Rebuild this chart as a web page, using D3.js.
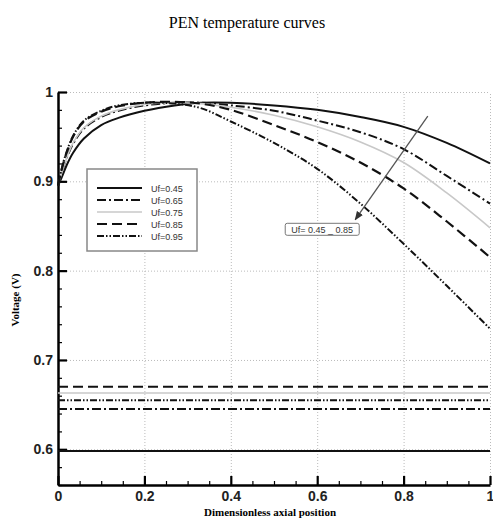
<!DOCTYPE html>
<html>
<head>
<meta charset="utf-8">
<script src="https://cdn.jsdelivr.net/npm/d3@7"></script>
<style>
  body { margin: 0; background: #fff; }
  .tick text { font-family: "Liberation Sans", Arial, sans-serif; font-weight: bold; font-size: 14px; fill: #222; }
  .grid line { stroke: #bbb; stroke-dasharray: 1,2; }
  .grid path { display: none; }
</style>
</head>
<body>
<script>
// axial positions of the sampled points
var xPos = [0, 0.01, 0.02, 0.035, 0.06, 0.1, 0.14, 0.2, 0.27, 0.33, 0.4, 0.5, 0.6, 0.7, 0.8, 0.9, 1.0];

// upper curves (one per fuel utilisation)
var uf045 = [0.895, 0.906, 0.918, 0.932, 0.948, 0.963, 0.971, 0.979, 0.985, 0.988, 0.988, 0.985, 0.980, 0.972, 0.961, 0.943, 0.920];
var uf065 = [0.895, 0.912, 0.926, 0.942, 0.959, 0.972, 0.979, 0.985, 0.988, 0.988, 0.985, 0.979, 0.968, 0.955, 0.936, 0.906, 0.875];
var uf075 = [0.895, 0.912, 0.926, 0.943, 0.960, 0.973, 0.980, 0.986, 0.988, 0.987, 0.983, 0.974, 0.961, 0.944, 0.921, 0.887, 0.848];
var uf085 = [0.895, 0.916, 0.932, 0.950, 0.967, 0.978, 0.984, 0.988, 0.989, 0.987, 0.980, 0.963, 0.944, 0.921, 0.892, 0.855, 0.815];
var uf095 = [0.895, 0.917, 0.933, 0.951, 0.968, 0.979, 0.985, 0.988, 0.987, 0.982, 0.967, 0.943, 0.914, 0.875, 0.830, 0.783, 0.735];

// flat lower lines, same order as the series
var lowLevels = [0.598, 0.645, 0.663, 0.670, 0.655];

var seriesNames = ["Uf=0.45", "Uf=0.65", "Uf=0.75", "Uf=0.85", "Uf=0.95"];
var xTicks = [0, 0.2, 0.4, 0.6, 0.8, 1];
var yTicks = [0.6, 0.7, 0.8, 0.9, 1];

var styles = [
    { stroke: "#111", width: 2, dash: null },
    { stroke: "#111", width: 2, dash: "9,3,2,3" },
    { stroke: "#c8c8c8", width: 1.6, dash: null },
    { stroke: "#111", width: 2.2, dash: "10,5" },
    { stroke: "#111", width: 2, dash: "7,2,1.5,2,1.5,2" }
];

var width = 493, height = 521;

var x = d3.scaleLinear().domain([0, 1]).range([58, 490]);
var y = d3.scaleLinear().domain([0.56, 1]).range([485, 92]);

var svg = d3.select("body").append("svg")
    .attr("width", width)
    .attr("height", height);

svg.append("text")
    .attr("x", 247).attr("y", 28)
    .attr("text-anchor", "middle")
    .style("font-family", "'Liberation Serif', 'Times New Roman', serif")
    .style("font-size", "16px")
    .text("PEN temperature curves");

// grid
svg.append("g").attr("class", "grid")
    .attr("transform", "translate(0 485)")
    .call(d3.axisBottom(x).tickValues(xTicks.slice(1)).tickSize(-393).tickFormat(""));
svg.append("g").attr("class", "grid")
    .attr("transform", "translate(58 0)")
    .call(d3.axisLeft(y).tickValues(yTicks).tickSize(-432).tickFormat(""));

// minor ticks
var xMinor = d3.range(0.05, 1, 0.05).filter(function (v) { return Math.abs(v * 5 - Math.round(v * 5)) > 1e-6; });
var yMinor = d3.range(0.56, 1, 0.02).filter(function (v) { return Math.abs(v * 10 - Math.round(v * 10)) > 1e-6; });

svg.append("g")
    .attr("transform", "translate(0 485)")
    .call(d3.axisBottom(x).tickValues(xMinor).tickSize(-4).tickFormat(""))
    .call(function (g) { g.select(".domain").remove(); g.selectAll("line").attr("stroke-width", 1.2); });
svg.append("g")
    .attr("transform", "translate(58 0)")
    .call(d3.axisLeft(y).tickValues(yMinor).tickSize(-4).tickFormat(""))
    .call(function (g) { g.select(".domain").remove(); g.selectAll("line").attr("stroke-width", 1.2); });

// main axes
svg.append("g")
    .attr("transform", "translate(0 485)")
    .call(d3.axisBottom(x).tickValues(xTicks).tickSize(-9).tickPadding(6).tickSizeOuter(0)
        .tickFormat(function (d) { return d === 0 || d === 1 ? d : d3.format(".1f")(d); }))
    .call(function (g) {
        g.select(".domain").attr("stroke-width", 2.5);
        g.selectAll(".tick line").attr("stroke-width", 2.2);
    });
svg.append("g")
    .attr("transform", "translate(58 0)")
    .call(d3.axisLeft(y).tickValues(yTicks).tickSize(-9).tickPadding(5).tickSizeOuter(0)
        .tickFormat(function (d) { return d === 1 ? "1" : d3.format(".1f")(d); }))
    .call(function (g) {
        g.select(".domain").attr("stroke-width", 2.5);
        g.selectAll(".tick line").attr("stroke-width", 2.2);
    });

svg.append("text")
    .attr("x", 270).attr("y", 516)
    .attr("text-anchor", "middle")
    .style("font-family", "'Liberation Serif', 'Times New Roman', serif")
    .style("font-weight", "bold")
    .style("font-size", "11px")
    .text("Dimensionless axial position");

svg.append("text")
    .attr("transform", "translate(19 300) rotate(-90)")
    .attr("text-anchor", "middle")
    .style("font-family", "'Liberation Serif', 'Times New Roman', serif")
    .style("font-weight", "bold")
    .style("font-size", "11px")
    .text("Voltage (V)");

// curves
var series = [uf045, uf065, uf075, uf085, uf095];
var line = d3.line()
    .x(function (d) { return x(d[0]); })
    .y(function (d) { return y(d[1]); })
    .curve(d3.curveCatmullRom.alpha(0.5));

var plot = svg.append("g");

series.forEach(function (vals, i) {
    var st = styles[i];
    plot.append("path")
        .datum(xPos.map(function (xv, j) { return [xv, vals[j]]; }))
        .attr("d", line)
        .attr("fill", "none")
        .attr("stroke", st.stroke)
        .attr("stroke-width", st.width)
        .attr("stroke-dasharray", st.dash);
    plot.append("path")
        .datum([[0, lowLevels[i]], [1, lowLevels[i]]])
        .attr("d", line)
        .attr("fill", "none")
        .attr("stroke", st.stroke)
        .attr("stroke-width", st.width)
        .attr("stroke-dasharray", st.dash);
});

// legend
var legend = svg.append("g").attr("transform", "translate(87 169)");
legend.append("rect")
    .attr("width", 110).attr("height", 82)
    .attr("fill", "#fff")
    .attr("stroke", "#888").attr("stroke-width", 1.5);
seriesNames.forEach(function (name, i) {
    var st = styles[i];
    var ly = 19 + i * 12;
    legend.append("line")
        .attr("x1", 10).attr("x2", 55).attr("y1", ly).attr("y2", ly)
        .attr("stroke", st.stroke)
        .attr("stroke-width", st.width)
        .attr("stroke-dasharray", st.dash);
    legend.append("text")
        .attr("x", 64).attr("y", ly + 3.5)
        .style("font-family", "'Liberation Sans', Arial, sans-serif")
        .style("font-size", "9px")
        .attr("fill", "#333")
        .text(name);
});

// annotation arrow
svg.append("defs").append("marker")
    .attr("id", "arrow")
    .attr("viewBox", "0 0 10 10")
    .attr("refX", 9).attr("refY", 5)
    .attr("markerWidth", 7).attr("markerHeight", 7)
    .attr("orient", "auto")
    .append("path").attr("d", "M0,1 L10,5 L0,9 Z").attr("fill", "#333");

svg.append("line")
    .attr("x1", x(0.856)).attr("y1", y(0.973))
    .attr("x2", x(0.688)).attr("y2", y(0.857))
    .attr("stroke", "#555").attr("stroke-width", 1.3)
    .attr("marker-end", "url(#arrow)");

var lab = svg.append("g").attr("transform", "translate(" + x(0.526) + " " + y(0.853) + ")");
lab.append("rect")
    .attr("width", 74).attr("height", 12).attr("rx", 2)
    .attr("fill", "#fff").attr("stroke", "#777").attr("stroke-width", 1);
lab.append("text")
    .attr("x", 37).attr("y", 9.5)
    .attr("text-anchor", "middle")
    .style("font-family", "'Liberation Sans', Arial, sans-serif")
    .style("font-size", "9px")
    .attr("fill", "#333")
    .text("Uf= 0.45 _ 0.85");
</script>
</body>
</html>
